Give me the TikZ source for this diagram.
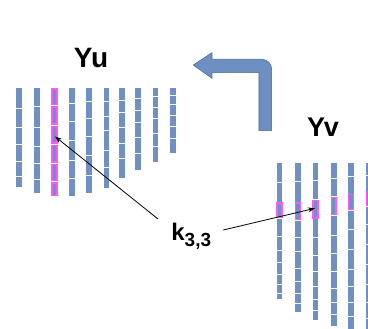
\documentclass[tikz,border=0pt]{standalone}
\usepackage{fontspec}
\setmainfont{Liberation Sans}
\usetikzlibrary{arrows.meta}
\definecolor{colblue}{RGB}{112,144,194}
\definecolor{arrowblue}{RGB}{110,143,194}
\definecolor{arrowedge}{RGB}{72,108,152}
\definecolor{hilite}{RGB}{250,90,250}
\tikzset{
  colbar/.style={fill=colblue},
  sepline/.style={white, line width=0.8pt},
  pointer/.style={black, line width=0.8pt, -{Stealth[length=7pt,width=5pt]}},
  title/.style={font=\bfseries\fontsize{28}{28}\selectfont, inner sep=0pt, anchor=base},
}
% a highlighted segment: magenta frame around a blue core
\newcommand{\hiseg}[3]{%
  \fill[hilite] (#1-0.4,#2) rectangle (#1+6.0,#3);
  \fill[colbar] (#1+1.1,#2+1.3) rectangle (#1+4.5,#3-1.3);
}
\begin{document}
\begin{tikzpicture}[x=1pt,y=-1pt]
\useasboundingbox (0,0) rectangle (368,329);

% left stack of columns: x / top / bottom / separators
\foreach \x/\t/\b/\s in {
  16/88.3/186.7/{108.3,127.3,144.3,161,176},
  34.3/88.3/193/{106.7,127.3,146,163.3,179.3},
  51.7/88.3/196/{106,125.3,144.3,163.3,182},
  69/88.3/196/{103.3,121.7,140.7,160,178.3},
  86/88.3/193/{101.7,118.3,136.7,155,175},
  103.7/88.3/187.7/{101.7,116,130.7,150,167.7},
  119.3/88.3/178/{100,112.7,127.3,143.3,158.3},
  135.3/88.3/170/{98.3,110,122.7,137.3,153.3},
  152.7/88.3/161.7/{96.7,107.7,118.3,133.3,146.7},
  170/88.3/152.7/{95,104.3,115,126,138.3}}{
  \fill[colbar] (\x,\t) rectangle (\x+5.6,\b);
  \foreach \y in \s {\draw[sepline] (\x,\y) -- (\x+5.6,\y);}
}
% highlighted column: every segment framed
\fill[white] (51.0,88.3) rectangle (58.0,196);
\foreach \ya/\yb in {88.3/105.5, 106.5/124.8, 125.8/143.8, 144.8/162.8, 163.8/181.5, 182.5/196} {
  \hiseg{51.7}{\ya}{\yb}
}

% right stack of columns
\foreach \x/\t/\b/\s/\ha/\hb in {
  276.7/163.3/299.3/{182.7,202.3,218.3,236,250,262.7,274.3,284.3,293.3}/202.3/218.3,
  295.3/163.3/311.7/{181,202.3,220,237.7,251.7,268.3,281.7,293.3,303.3}/202.3/220,
  312.7/163.3/320/{180,199.7,218.7,237.7,255,271.7,286,299.3,310}/199.7/218.7,
  331/163.3/326/{178.3,196.7,215,235,253.3,271.7,288.3,302.7,314}/196.7/215,
  348.3/163.3/332/{176.7,194,210,229.3,249.3,269.3,286.7,302.7,316.7}/194/210,
  366/163.3/335/{175,191,206,224,244,264,284,302,318}/191/206}{
  \fill[colbar] (\x,\t) rectangle (\x+5.6,\b);
  \foreach \y in \s {\draw[sepline] (\x,\y) -- (\x+5.6,\y);}
  \hiseg{\x}{\ha}{\hb}
}

% bent block arrow
\draw[fill=arrowblue, draw=arrowedge, line width=0.6pt]
  (193.3,65) -- (212,52.7) -- (212,59.3)
  [rounded corners=10pt] -- (271.7,59.3) [sharp corners] -- (271.7,130.7)
  -- (259,130.7) -- (259,72.7) -- (212,72.7) -- (212,78.3) -- cycle;

% titles
\node[title] (yu) at (91,68) {Yu};
\node[title, font=\bfseries\fontsize{27}{27}\selectfont] (yv) at (323,136.7) {Yv};

% label with pointers
\node[inner sep=0pt, anchor=base west, font=\bfseries\fontsize{24}{24}\selectfont]
  (k) at (171.2,240.7) {k\raisebox{-5.5pt}{\fontsize{19}{19}\selectfont 3,3}};
\coordinate (pu) at (55,136.5);
\coordinate (pv) at (315,208.3);
\coordinate (ku) at (158,219);
\coordinate (kv) at (223.3,230);
\draw[pointer] (ku) -- (pu);
\draw[pointer] (kv) -- (pv);
\end{tikzpicture}
\end{document}
